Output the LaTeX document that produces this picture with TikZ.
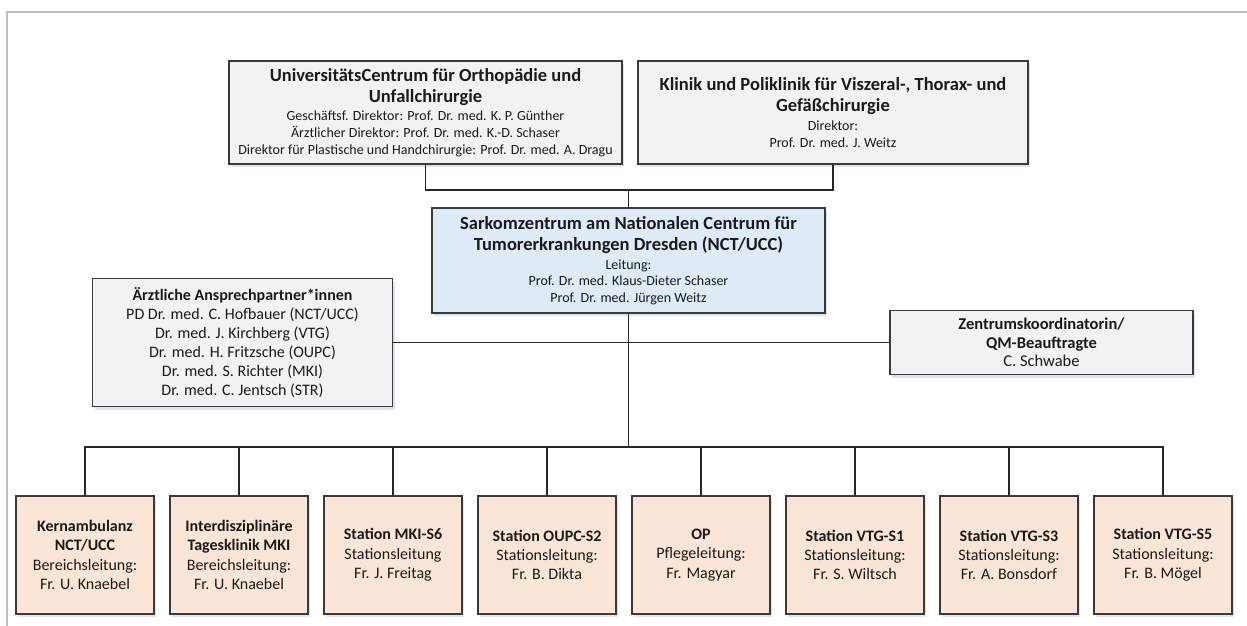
\documentclass[tikz,border=0pt]{standalone}
\usepackage{fontspec}
\setmainfont{Carlito}
\usetikzlibrary{shadows}
\definecolor{boxgray}{HTML}{F2F2F2}
\definecolor{boxblue}{HTML}{DEEAF6}
\definecolor{boxpeach}{HTML}{FBE5D6}
\definecolor{edgecol}{HTML}{3A3A3A}
\definecolor{linecol}{HTML}{262626}
\definecolor{shadowcol}{HTML}{CFD9E6}
\definecolor{framecol}{HTML}{C0C0C0}
\definecolor{textcol}{HTML}{1A1A1A}
\newcommand{\TitleF}{\fontsize{18.5}{21}\selectfont\bfseries}
\begin{document}
\begin{tikzpicture}[x=1pt,y=-1pt,
  base/.style={draw=edgecol, line width=1.2pt, align=center, inner sep=0pt, text=textcol,
    drop shadow={shadow xshift=2pt, shadow yshift=-3pt, fill=shadowcol, opacity=0.7}},
  topbox/.style={base, fill=boxgray, font=\fontsize{14}{16.8}\selectfont},
  centbox/.style={base, fill=boxblue, font=\fontsize{14}{16.3}\selectfont},
  sidebox/.style={base, fill=boxgray, font=\fontsize{16}{19}\selectfont},
  unitbox/.style={base, fill=boxpeach, font=\fontsize{16}{19.3}\selectfont, minimum width=138pt, minimum height=118pt},
  conn/.style={draw=linecol, line width=1.1pt},
  frame/.style={draw=framecol, line width=1.6pt}]
\useasboundingbox (0,0) rectangle (1247,626);
\fill[white] (0,0) rectangle (1247,626);
\draw[frame] (7,626) -- (7,12) -- (1247,12);

% top row
\node[topbox, minimum width=393pt, minimum height=103pt] (orth) at (425.5,112.5)
  {{\TitleF UniversitätsCentrum für Orthopädie und}\\[4.2pt]
   {\TitleF Unfallchirurgie}\\[2pt]
   Geschäftsf. Direktor: Prof. Dr. med. K. P. Günther\\
   Ärztlicher Direktor: Prof. Dr. med. K.-D. Schaser\\
   Direktor für Plastische und Handchirurgie: Prof. Dr. med. A. Dragu};
\node[topbox, minimum width=390pt, minimum height=103pt] (visz) at (833,112.5)
  {{\TitleF Klinik und Poliklinik für Viszeral-, Thorax- und}\\[4.2pt]
   {\TitleF Gefäßchirurgie}\\[2pt]
   Direktor:\\
   Prof. Dr. med. J. Weitz};

% centre
\node[centbox, minimum width=393pt, minimum height=105pt] (sark) at (628.5,260.5)
  {{\TitleF Sarkomzentrum am Nationalen Centrum für}\\[4.7pt]
   {\TitleF Tumorerkrankungen Dresden (NCT/UCC)}\\[2.5pt]
   Leitung:\\
   Prof. Dr. med. Klaus-Dieter Schaser\\
   Prof. Dr. med. Jürgen Weitz};

% side boxes
\node[sidebox, minimum width=300pt, minimum height=128pt] (aerzt) at (242.5,342.5)
  {\textbf{Ärztliche Ansprechpartner*innen}\\
   PD Dr. med. C. Hofbauer (NCT/UCC)\\
   Dr. med. J. Kirchberg (VTG)\\
   Dr. med. H. Fritzsche (OUPC)\\
   Dr. med. S. Richter (MKI)\\
   Dr. med. C. Jentsch (STR)};
\node[sidebox, font=\fontsize{16.5}{18.5}\selectfont, minimum width=303pt, minimum height=64pt] (koord) at (1041.5,342.5)
  {\textbf{Zentrumskoordinatorin/}\\
   \textbf{QM-Beauftragte}\\
   C. Schwabe};

% bottom units
\node[unitbox] (b1) at (85,555)
  {\textbf{Kernambulanz}\\ \textbf{NCT/UCC}\\ Bereichsleitung:\\ Fr. U. Knaebel};
\node[unitbox] (b2) at (239,555)
  {\textbf{Interdisziplinäre}\\ \textbf{Tagesklinik MKI}\\ Bereichsleitung:\\ Fr. U. Knaebel};
\node[unitbox] (b3) at (393,555)
  {\textbf{Station MKI-S6}\\ Stationsleitung\\ Fr. J. Freitag};
\node[unitbox] (b4) at (547,555)
  {\textbf{Station OUPC-S2}\\ Stationsleitung:\\ Fr. B. Dikta};
\node[unitbox] (b5) at (701,555)
  {\textbf{OP}\\ Pflegeleitung:\\ Fr. Magyar};
\node[unitbox] (b6) at (855,555)
  {\textbf{Station VTG-S1}\\ Stationsleitung:\\ Fr. S. Wiltsch};
\node[unitbox] (b7) at (1009,555)
  {\textbf{Station VTG-S3}\\ Stationsleitung:\\ Fr. A. Bonsdorf};
\node[unitbox] (b8) at (1163,555)
  {\textbf{Station VTG-S5}\\ Stationsleitung:\\ Fr. B. Mögel};

% connectors
\coordinate (jt) at (sark.north |- 0,190);
\draw[conn] (orth.south) |- (jt) -| (visz.south);
\draw[conn] (jt) -- (sark.north);
\draw[conn] (aerzt.east) -- (koord.west);
\coordinate (bus) at (sark.south |- 0,447);
\draw[conn] (sark.south) -- (bus);
\draw[conn] (b1.north) |- (bus) -| (b8.north);
\foreach \n in {b2,b3,b4,b5,b6,b7} {\draw[conn] (\n.north) -- (\n.north |- bus);}
\end{tikzpicture}
\end{document}
